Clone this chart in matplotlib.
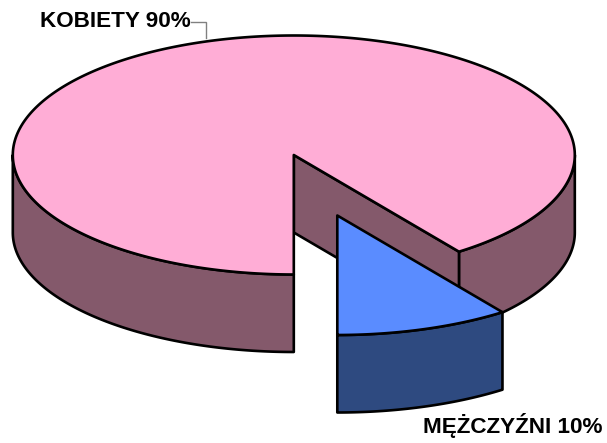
import numpy as np
import matplotlib
matplotlib.use("Agg")
import matplotlib.pyplot as plt

categories = ["KOBIETY", "MĘŻCZYŹNI"]
shares = [90, 10]

W, H = 607, 443
plt.rcParams['font.family'] = ['Liberation Sans', 'DejaVu Sans']
fig = plt.figure(figsize=(W / 100, H / 100), dpi=100)
ax = fig.add_axes([0, 0, 1, 1])
ax.set_xlim(0, W)
ax.set_ylim(H, 0)
ax.axis('off')

CX, CY, RX, RY, DEPTH = 293.8, 155.0, 281.0, 119.5, 77.5
OFFSET = (43.5, 60.5)
LW = 1.9
PINK, PINK_D = '#FFADD6', '#84596B'
BLUE, BLUE_D = '#5A8CFF', '#2E4A80'


def arc(a0, a1, cx, cy, n=200):
    """a is degrees clockwise on screen, measured from straight down, moving to the right being positive."""
    t = np.radians(np.linspace(a0, a1, n))
    return cx + RX * np.sin(t), cy + RY * np.cos(t)


def poly(x, y, fc, **kw):
    ax.fill(x, y, facecolor=fc, edgecolor='black', linewidth=LW, joinstyle='round', **kw)


slice_sweep = 360 * shares[1] / sum(shares)

# pink outer side, left visible portion (bottom to far left)
x, y = arc(-90, 0, CX, CY)
poly(np.r_[x, x[::-1]], np.r_[y, y[::-1] + DEPTH], PINK_D)
# pink outer side, right visible portion
x, y = arc(slice_sweep, 90, CX, CY)
poly(np.r_[x, x[::-1]], np.r_[y, y[::-1] + DEPTH], PINK_D)
# pink inner wall along the cut
ex, ey = arc(slice_sweep, slice_sweep, CX, CY, 2)
poly([CX, ex[0], ex[0], CX], [CY, ey[0], ey[0] + DEPTH, CY + DEPTH], PINK_D)
# pink top
x, y = arc(slice_sweep, 360, CX, CY, 600)
poly(np.r_[CX, x], np.r_[CY, y], PINK)

# blue slice
bx, by = CX + OFFSET[0], CY + OFFSET[1]
x, y = arc(0, slice_sweep, bx, by)
poly(np.r_[x, x[::-1]], np.r_[y, y[::-1] + DEPTH], BLUE_D)
poly(np.r_[bx, x], np.r_[by, y], BLUE)

# labels
ax.plot([191, 206, 206], [21.5, 21.5, 38], color='#808080', lw=1, solid_joinstyle='miter')
ax.text(39.5, 21.5, f"{categories[0]} {shares[0]}%", fontsize=16.2, fontweight='bold',
        ha='left', va='center', color='black')
ax.text(423, 425, f"{categories[1]} {shares[1]}%", fontsize=16.2, fontweight='bold',
        ha='left', va='center', color='black')

fig.savefig('out.png', dpi=100)
